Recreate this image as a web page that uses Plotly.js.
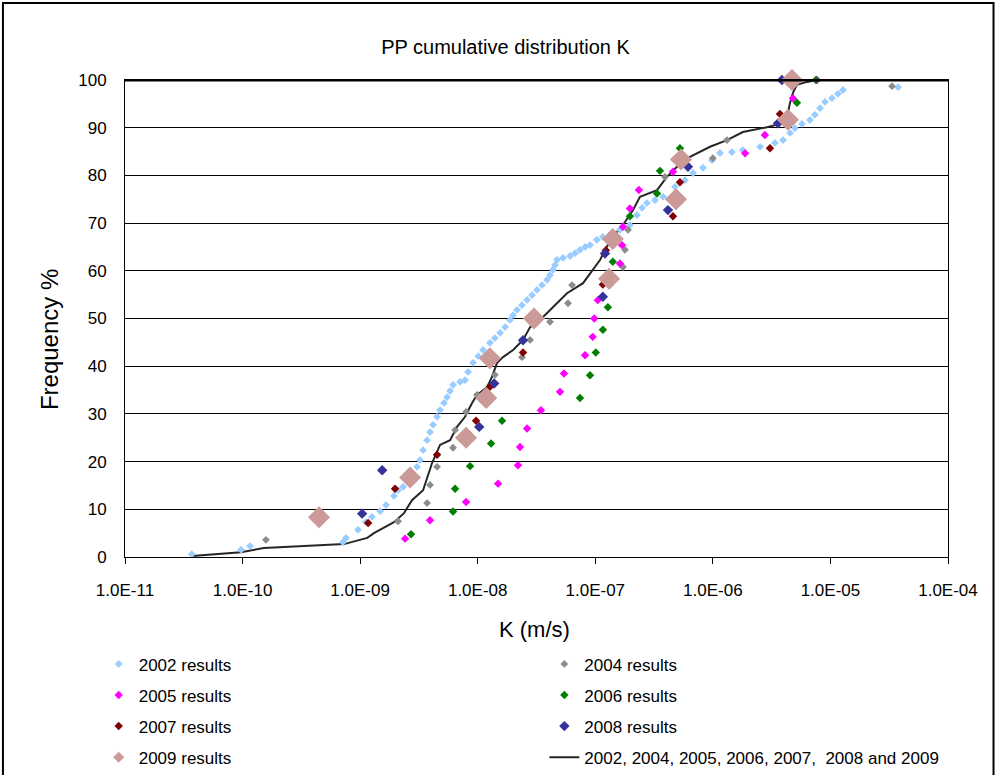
<!DOCTYPE html>
<html>
<head>
<meta charset="utf-8">
<script src="https://cdn.plot.ly/plotly-3.0.1.min.js"></script>
<style>html,body{margin:0;padding:0;background:#fff;}#chart{width:997px;height:775px;}</style>
</head>
<body>
<div id="chart"></div>
<script>
// ---- data (K in m/s, frequency in %) ----
const k2002 = [3.7e-11,9.7e-11,1.16e-10,7.14e-10,7.58e-10,9.59e-10,1.12e-9,1.26e-9,1.48e-9,1.66e-9,1.94e-9,2.10e-9,2.32e-9,2.50e-9,2.66e-9,3.05e-9,3.23e-9,3.43e-9,3.71e-9,3.93e-9,4.17e-9,4.51e-9,4.78e-9,5.17e-9,5.48e-9,5.82e-9,6.17e-9,7.08e-9,7.80e-9,8.28e-9,9.12e-9,1.01e-8,1.11e-8,1.27e-8,1.40e-8,1.55e-8,1.71e-8,1.88e-8,2.00e-8,2.16e-8,2.38e-8,2.63e-8,2.90e-8,3.19e-8,3.52e-8,3.89e-8,4.12e-8,4.37e-8,4.54e-8,4.73e-8,5.32e-8,6.10e-8,6.73e-8,7.41e-8,8.18e-8,9.02e-8,1.03e-7,1.16e-7,1.39e-7,1.62e-7,1.97e-7,2.26e-7,2.50e-7,2.75e-7,3.22e-7,3.77e-7,4.76e-7,5.79e-7,6.78e-7,8.24e-7,9.83e-7,1.15e-6,1.45e-6,1.80e-6,2.52e-6,3.37e-6,3.95e-6,4.53e-6,4.99e-6,5.73e-6,6.70e-6,7.38e-6,8.15e-6,8.98e-6,1.03e-5,1.16e-5,1.28e-5,3.76e-5];
const p2002 = [0.6,1.5,2.3,3.1,4.0,5.7,7.3,8.4,9.6,10.9,12.8,14.0,14.7,16.1,17.6,18.9,20.3,22.4,24.5,26.2,27.7,29.4,30.8,32.3,33.5,34.8,36.1,36.7,37.1,38.8,40.7,42.1,43.4,44.9,45.9,47.0,48.2,49.7,50.7,51.8,52.8,53.9,54.9,56.0,57.0,58.1,59.1,60.2,61.2,62.3,62.7,63.1,63.7,64.4,65.0,65.4,66.5,67.1,67.9,68.6,69.6,71.7,73.2,74.2,74.8,75.5,77.6,79.0,80.5,81.6,83.2,84.7,84.9,85.3,86.0,86.8,87.4,88.9,89.9,90.8,91.6,92.7,94.1,95.4,96.2,97.1,97.9,98.5];

const k2004 = [1.58e-10,2.10e-9,3.71e-9,3.93e-9,4.51e-9,6.17e-9,6.42e-9,7.96e-9,9.87e-9,1.40e-8,2.38e-8,2.79e-8,4.12e-8,5.86e-8,6.34e-8,1.72e-7,1.79e-7,1.90e-7,3.91e-7,1.00e-6,1.32e-6,3.34e-5];
const p2004 = [3.6,7.5,11.3,15.1,18.9,22.9,26.6,30.4,34.0,38.2,41.9,45.5,49.3,53.2,57.0,60.8,64.4,68.6,79.7,83.6,87.4,98.7];

const k2005 = [2.41e-9,3.93e-9,7.96e-9,1.49e-8,2.20e-8,2.29e-8,2.63e-8,3.45e-8,5.01e-8,5.42e-8,8.18e-8,9.5e-8,9.8e-8,1.05e-7,1.28e-7,1.62e-7,1.69e-7,1.72e-7,1.97e-7,2.35e-7,4.58e-7,1.88e-6,2.77e-6,4.35e-6,4.80e-6,7.68e-6];
const p2005 = [3.85,7.69,11.54,15.38,19.23,23.08,26.92,30.77,34.62,38.46,42.31,46.15,50.0,53.85,57.69,61.54,65.38,69.23,73.08,76.92,80.77,84.62,88.46,92.31,96.15,100];

const k2006 = [2.71e-9,6.17e-9,6.42e-9,8.61e-9,1.30e-8,1.61e-8,7.41e-8,9.02e-8,1.01e-7,1.16e-7,1.28e-7,1.33e-7,1.41e-7,1.44e-7,1.97e-7,3.35e-7,3.55e-7,5.25e-7,4.35e-6,5.19e-6,7.53e-6];
const p2006 = [4.76,9.52,14.29,19.05,23.81,28.57,33.33,38.10,42.86,47.62,52.38,57.14,61.90,66.67,71.43,76.19,80.95,85.71,90.48,95.24,100];

const k2007 = [1.17e-9,1.98e-9,4.51e-9,9.68e-9,1.27e-8,2.43e-8,3.07e-8,1.16e-7,1.23e-7,4.58e-7,5.25e-7,3.06e-6,3.72e-6,5.19e-6];
const p2007 = [7.14,14.29,21.43,28.57,35.71,42.86,50.0,57.14,64.29,71.43,78.57,85.71,92.86,100];

const k2008 = [1.04e-9,1.54e-9,1.03e-8,1.38e-8,2.43e-8,1.16e-7,1.21e-7,4.15e-7,6.14e-7,3.58e-6,3.87e-6];
const p2008 = [9.09,18.18,27.27,36.36,45.45,54.55,63.64,72.73,81.82,90.91,100];

const k2009 = [4.47e-10,2.66e-9,7.96e-9,1.18e-8,1.27e-8,3.01e-8,1.31e-7,1.41e-7,4.86e-7,5.36e-7,4.35e-6,4.71e-6];
const p2009 = [8.33,16.67,25.0,33.33,41.67,50.0,58.33,66.67,75.0,83.33,91.67,100];

const kAll = [3.7e-11,9.7e-11,1.52e-10,7.3e-10,1.15e-9,1.31e-9,1.94e-9,2.36e-9,2.76e-9,3.43e-9,4.09e-9,4.78e-9,5.82e-9,6.67e-9,7.80e-9,8.95e-9,9.87e-9,1.20e-8,1.32e-8,1.46e-8,1.64e-8,2.00e-8,2.43e-8,2.79e-8,3.39e-8,4.37e-8,5.75e-8,7.87e-8,9.57e-8,1.10e-7,1.21e-7,1.41e-7,1.72e-7,2.09e-7,2.40e-7,3.35e-7,4.07e-7,4.95e-7,6.39e-7,9.46e-7,1.32e-6,1.80e-6,2.88e-6,3.72e-6,4.27e-6,4.53e-6,4.80e-6,5.19e-6,6.31e-6,7.68e-6];
const pAll = [0.2,1.0,1.9,2.7,4.0,5.0,7.3,9.2,11.9,14.0,19.7,23.5,24.5,27.3,29.4,32.3,34.0,35.6,37.7,40.7,41.9,43.4,45.5,48.2,49.7,52.4,55.3,57.4,60.2,62.3,64.4,67.1,69.6,72.7,75.5,76.9,79.7,81.8,83.9,86.0,87.4,89.1,90.1,90.8,92.2,95.2,97.3,99.0,99.6,100];

const xTickVals = [1e-11,1e-10,1e-9,1e-8,1e-7,1e-6,1e-5,1e-4];
const xTickText = ['1.0E-11','1.0E-10','1.0E-09','1.0E-08','1.0E-07','1.0E-06','1.0E-05','1.0E-04'];
const yTickVals = [0,10,20,30,40,50,60,70,80,90,100];

const FONT = 'Liberation Sans, Arial, sans-serif';

function pts(name, k, p, color, size, legend, rank, showleg) {
  return {type:'scatter', mode:'markers', name:name, x:k, y:p,
    marker:{symbol:'diamond', color:color, size:size, line:{width:0}},
    legend:legend, legendgroup:name, legendrank:rank, showlegend:showleg, cliponaxis:false};
}

const traces = [
  {type:'scatter', mode:'lines', name:'2002, 2004, 2005, 2006, 2007,  2008 and 2009', x:kAll, y:pAll,
   line:{color:'#262626', width:2}, legend:'legend2', legendgroup:'all', legendrank:4},
  pts('2002 results', k2002, p2002, '#99CCFF', 6, 'legend', 1, true),
  pts('2004 results', k2004, p2004, '#8C8C8C', 6, 'legend2', 1, true),
  pts('2005 results', k2005, p2005, '#FF00FF', 6.5, 'legend', 2, true),
  pts('2006 results', k2006, p2006, '#008000', 6.5, 'legend2', 2, true),
  pts('2007 results', k2007, p2007, '#800000', 6.5, 'legend', 3, true),
  pts('2008 results', k2008, p2008, '#333399', 8, 'legend2', 3, true),
  pts('2009 results', k2009, p2009, '#CC9999', 17, 'legend', 4, false),
  // legend-only entry so the 2009 legend symbol keeps the reference's small size
  {type:'scatter', mode:'markers', name:'2009 results', x:[null], y:[null],
   marker:{symbol:'diamond', color:'#CC9999', size:8.5}, legend:'legend', legendgroup:'2009 results', legendrank:4, showlegend:true}
];

const legendCommon = {orientation:'v', xref:'container', yref:'container', xanchor:'left', yanchor:'top',
  font:{family:FONT, size:17, color:'#000'}, bgcolor:'rgba(0,0,0,0)', tracegroupgap:6, itemsizing:'trace'};

const layout = {
  width:997, height:775,
  margin:{l:125, r:49, t:80, b:218, autoexpand:false},
  paper_bgcolor:'#fff', plot_bgcolor:'#fff',
  font:{family:FONT, color:'#000'},
  title:{text:'PP cumulative distribution K', font:{family:FONT, size:20, color:'#000'},
    xref:'container', yref:'container', x:0.507, y:0.939, xanchor:'center', yanchor:'middle'},
  xaxis:{type:'log', range:[-11,-4], tickvals:xTickVals, ticktext:xTickText, tickangle:0, automargin:false,
    showgrid:false, zeroline:false, showline:true, linecolor:'#000', linewidth:1, mirror:true,
    ticks:'outside', ticklen:6, tickcolor:'#000', tickwidth:1, ticklabelstandoff:12,
    tickfont:{family:FONT, size:17, color:'#000'}},
  yaxis:{range:[0,100], tickvals:yTickVals, automargin:false,
    showgrid:true, gridcolor:'#000', gridwidth:1, zeroline:false,
    showline:true, linecolor:'#000', linewidth:1, mirror:true, ticks:'', ticklabelstandoff:14,
    tickfont:{family:FONT, size:17, color:'#000'}},
  annotations:[
    {text:'K (m/s)', xref:'paper', yref:'paper', x:0.497, y:-0.153, xanchor:'center', yanchor:'middle',
     showarrow:false, font:{family:FONT, size:22, color:'#000'}},
    {text:'Frequency %', xref:'paper', yref:'paper', x:-0.091, y:0.455, xanchor:'center', yanchor:'middle',
     textangle:-90, showarrow:false, font:{family:FONT, size:24, color:'#000'}}
  ],
  showlegend:true,
  legend:Object.assign({x:0.099, y:0.166}, legendCommon),
  legend2:Object.assign({x:0.546, y:0.166}, legendCommon),
  shapes:[
    {type:'line', xref:'paper', yref:'y', x0:0, x1:1, y0:100, y1:100, line:{color:'#000', width:3}},
    {type:'rect', xref:'paper', yref:'paper', x0:-0.1483, x1:1.0553, y0:-0.48, y1:1.1614,
     line:{color:'#000', width:2}, layer:'below'}
  ]
};

Plotly.newPlot('chart', traces, layout, {displayModeBar:false, staticPlot:true});
</script>
</body>
</html>
